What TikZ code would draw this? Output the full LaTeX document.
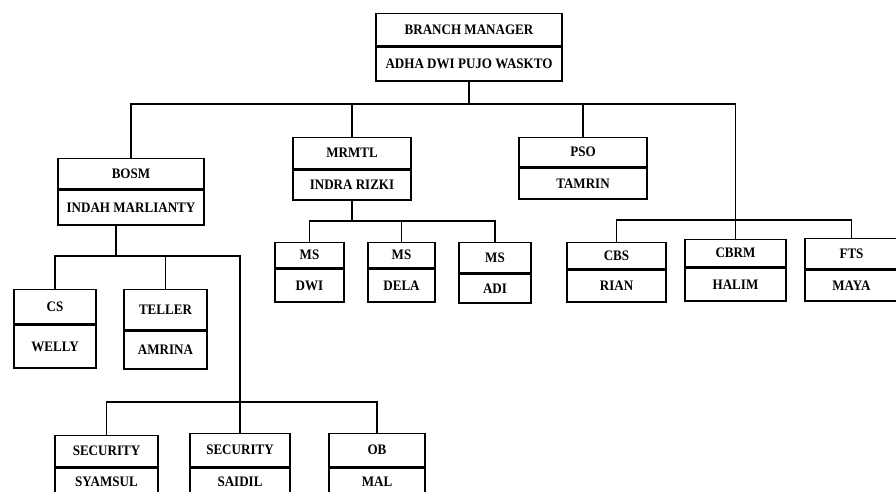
\documentclass[tikz,border=0pt]{standalone}
\usepackage{fontspec}
\setmainfont{Liberation Serif}[FakeStretch=0.9]
\tikzset{
  orgline/.style={line width=1.3pt},
  jobbox/.style={draw, line width=1.3pt, inner sep=0pt, anchor=north, font=\fontsize{14.5}{16}\selectfont\bfseries},
}
\begin{document}
\begin{tikzpicture}[x={(1pt,0)}, y={(0,-1pt)}, line join=miter]
    \useasboundingbox (0,0) rectangle (896,491);
    \clip (0,0) rectangle (896,491);

    % boxes: name/x/top/width/title height/name height/title/person
    \foreach \n/\x/\y/\w/\ha/\hb/\t/\p in {
        bm/469/13/186/32/34/BRANCH MANAGER/ADHA DWI PUJO WASKTO,
        bosm/131/158/146/30/35/BOSM/INDAH MARLIANTY,
        mrmtl/352/137/118/31/30/MRMTL/INDRA RIZKI,
        pso/583/137/128/29/31/PSO/TAMRIN,
        msa/309.5/242/69/25/33/MS/DWI,
        msb/401.5/242/67/25/33/MS/DELA,
        msc/495/242/72/30/29/MS/ADI,
        cbs/616.5/242/99/26/32/CBS/RIAN,
        cbrm/735.5/239/101/27/33/CBRM/HALIM,
        fts/851.5/238/93/30/31/FTS/MAYA,
        cs/55/289/82/34/43/CS/WELLY,
        teller/165.5/289/83/40/38/TELLER/AMRINA,
        seca/106.5/435/103/31/28/SECURITY/SYAMSUL,
        secb/240/433/100/33/28/SECURITY/SAIDIL,
        ob/377/433/96/33/28/OB/MAL} {
        \node[jobbox, minimum width=\w pt, minimum height=\ha pt] (\n) at (\x,\y) {\t};
        \node[jobbox, minimum width=\w pt, minimum height=\hb pt] (\n-n) at (\n.south) {\p};
    }

    % branch manager line
    \coordinate (top) at (469,104);
    \draw[orgline] (bm-n.south) -- (top);
    \draw[orgline] (bosm.north) |- (top) -| (cbrm.north);
    \draw[orgline] (mrmtl.north) -- (mrmtl.north |- top);
    \draw[orgline] (pso.north) -- (pso.north |- top);

    % cbs cbrm fts
    \coordinate (rgt) at (735.5,220);
    \draw[orgline] (cbs.north) |- (rgt) -| (fts.north);

    % ms line
    \coordinate (mid) at (352,221);
    \draw[orgline] (mrmtl-n.south) -- (mid);
    \draw[orgline] (msa.north) |- (mid) -| (msc.north);
    \draw[orgline] (msb.north) -- (msb.north |- mid);

    % bosm line
    \coordinate (lft) at (116,256);
    \coordinate (bot) at (240,402);
    \draw[orgline] (bosm-n.south -| lft) -- (lft);
    \draw[orgline] (cs.north) |- (lft) -| (bot);
    \draw[orgline] (teller.north) -- (teller.north |- lft);

    % security ob
    \draw[orgline] (seca.north) |- (bot) -| (ob.north);
    \draw[orgline] (secb.north) -- (bot);
\end{tikzpicture}
\end{document}
